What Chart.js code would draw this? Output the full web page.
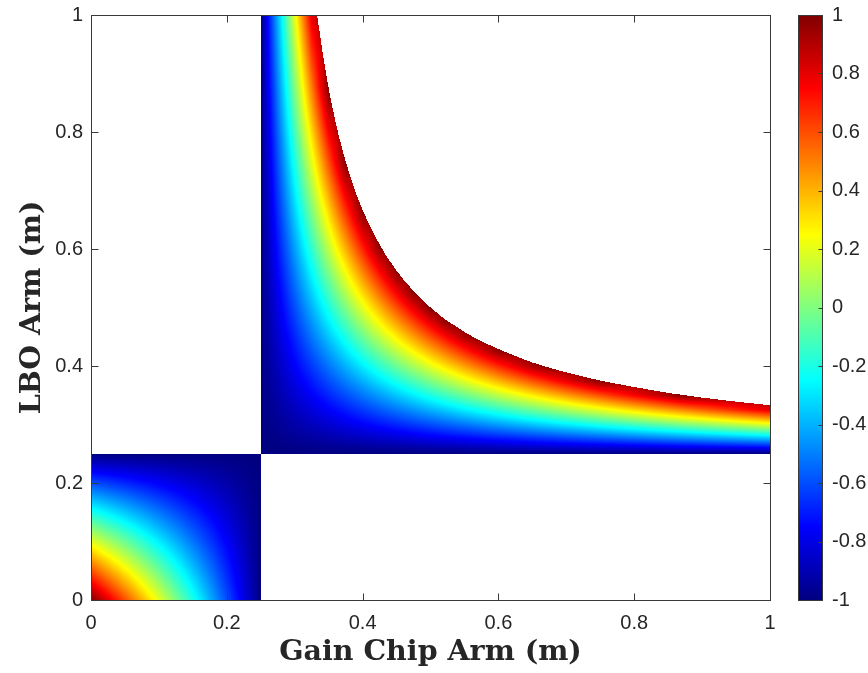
<!DOCTYPE html>
<html>
<head>
<meta charset="utf-8">
<script src="https://cdn.jsdelivr.net/npm/chart.js@4.4.1/dist/chart.umd.min.js"></script>
<style>
  body { margin: 0; background: #fff; }
  canvas { display: block; }
</style>
</head>
<body>
<canvas id="stabilityChart" width="868" height="673"></canvas>
<script>
const axisTicks = [0, 0.2, 0.4, 0.6, 0.8, 1];
const colorTicks = [-1, -0.8, -0.6, -0.4, -0.2, 0, 0.2, 0.4, 0.6, 0.8, 1];

// lower-left stable zone, nodes in both gain chip arm and LBO arm (m)
const lowerNodes = [0, 0.025, 0.05, 0.075, 0.1, 0.125, 0.15, 0.175, 0.2, 0.225, 0.25];
// rows go up in LBO arm, columns go right in gain chip arm
const lowerGrid = [
  [1, 0.8, 0.6, 0.4, 0.2, 0, -0.2, -0.4, -0.6, -0.8, -1],
  [0.8, 0.62, 0.44, 0.26, 0.08, -0.1, -0.28, -0.46, -0.64, -0.82, -1],
  [0.6, 0.44, 0.28, 0.12, -0.04, -0.2, -0.36, -0.52, -0.68, -0.84, -1],
  [0.4, 0.26, 0.12, -0.02, -0.16, -0.3, -0.44, -0.58, -0.72, -0.86, -1],
  [0.2, 0.08, -0.04, -0.16, -0.28, -0.4, -0.52, -0.64, -0.76, -0.88, -1],
  [0, -0.1, -0.2, -0.3, -0.4, -0.5, -0.6, -0.7, -0.8, -0.9, -1],
  [-0.2, -0.28, -0.36, -0.44, -0.52, -0.6, -0.68, -0.76, -0.84, -0.92, -1],
  [-0.4, -0.46, -0.52, -0.58, -0.64, -0.7, -0.76, -0.82, -0.88, -0.94, -1],
  [-0.6, -0.64, -0.68, -0.72, -0.76, -0.8, -0.84, -0.88, -0.92, -0.96, -1],
  [-0.8, -0.82, -0.84, -0.86, -0.88, -0.9, -0.92, -0.94, -0.96, -0.98, -1],
  [-1, -1, -1, -1, -1, -1, -1, -1, -1, -1, -1]
];

// upper-right stable zone
const upperNodes = [0.25, 0.275, 0.3, 0.325, 0.35, 0.375, 0.4, 0.425, 0.45, 0.475, 0.5,
  0.525, 0.55, 0.575, 0.6, 0.625, 0.65, 0.675, 0.7, 0.725, 0.75,
  0.775, 0.8, 0.825, 0.85, 0.875, 0.9, 0.925, 0.95, 0.975, 1];
// each row stops at the last node inside the stable zone
const upperGrid = [
  [-1, -1, -1, -1, -1, -1, -1, -1, -1, -1, -1, -1, -1, -1, -1, -1, -1, -1, -1, -1, -1, -1, -1, -1, -1, -1, -1, -1, -1, -1, -1],
  [-1, -0.98, -0.96, -0.94, -0.92, -0.9, -0.88, -0.86, -0.84, -0.82, -0.8, -0.78, -0.76, -0.74, -0.72, -0.7, -0.68, -0.66, -0.64, -0.62, -0.6, -0.58, -0.56, -0.54, -0.52, -0.5, -0.48, -0.46, -0.44, -0.42, -0.4],
  [-1, -0.96, -0.92, -0.88, -0.84, -0.8, -0.76, -0.72, -0.68, -0.64, -0.6, -0.56, -0.52, -0.48, -0.44, -0.4, -0.36, -0.32, -0.28, -0.24, -0.2, -0.16, -0.12, -0.08, -0.04, 0, 0.04, 0.08, 0.12, 0.16, 0.2],
  [-1, -0.94, -0.88, -0.82, -0.76, -0.7, -0.64, -0.58, -0.52, -0.46, -0.4, -0.34, -0.28, -0.22, -0.16, -0.1, -0.04, 0.02, 0.08, 0.14, 0.2, 0.26, 0.32, 0.38, 0.44, 0.5, 0.56, 0.62, 0.68, 0.74, 0.8],
  [-1, -0.92, -0.84, -0.76, -0.68, -0.6, -0.52, -0.44, -0.36, -0.28, -0.2, -0.12, -0.04, 0.04, 0.12, 0.2, 0.28, 0.36, 0.44, 0.52, 0.6, 0.68, 0.76, 0.84, 0.92, 1],
  [-1, -0.9, -0.8, -0.7, -0.6, -0.5, -0.4, -0.3, -0.2, -0.1, 0, 0.1, 0.2, 0.3, 0.4, 0.5, 0.6, 0.7, 0.8, 0.9, 1],
  [-1, -0.88, -0.76, -0.64, -0.52, -0.4, -0.28, -0.16, -0.04, 0.08, 0.2, 0.32, 0.44, 0.56, 0.68, 0.8, 0.92],
  [-1, -0.86, -0.72, -0.58, -0.44, -0.3, -0.16, -0.02, 0.12, 0.26, 0.4, 0.54, 0.68, 0.82, 0.96],
  [-1, -0.84, -0.68, -0.52, -0.36, -0.2, -0.04, 0.12, 0.28, 0.44, 0.6, 0.76, 0.92],
  [-1, -0.82, -0.64, -0.46, -0.28, -0.1, 0.08, 0.26, 0.44, 0.62, 0.8, 0.98],
  [-1, -0.8, -0.6, -0.4, -0.2, 0, 0.2, 0.4, 0.6, 0.8, 1],
  [-1, -0.78, -0.56, -0.34, -0.12, 0.1, 0.32, 0.54, 0.76, 0.98],
  [-1, -0.76, -0.52, -0.28, -0.04, 0.2, 0.44, 0.68, 0.92],
  [-1, -0.74, -0.48, -0.22, 0.04, 0.3, 0.56, 0.82],
  [-1, -0.72, -0.44, -0.16, 0.12, 0.4, 0.68, 0.96],
  [-1, -0.7, -0.4, -0.1, 0.2, 0.5, 0.8],
  [-1, -0.68, -0.36, -0.04, 0.28, 0.6, 0.92],
  [-1, -0.66, -0.32, 0.02, 0.36, 0.7],
  [-1, -0.64, -0.28, 0.08, 0.44, 0.8],
  [-1, -0.62, -0.24, 0.14, 0.52, 0.9],
  [-1, -0.6, -0.2, 0.2, 0.6, 1],
  [-1, -0.58, -0.16, 0.26, 0.68],
  [-1, -0.56, -0.12, 0.32, 0.76],
  [-1, -0.54, -0.08, 0.38, 0.84],
  [-1, -0.52, -0.04, 0.44, 0.92],
  [-1, -0.5, 0, 0.5, 1],
  [-1, -0.48, 0.04, 0.56],
  [-1, -0.46, 0.08, 0.62],
  [-1, -0.44, 0.12, 0.68],
  [-1, -0.42, 0.16, 0.74],
  [-1, -0.4, 0.2, 0.8]
];

// outer edge of the upper stable zone (gain chip arm, LBO arm)
const edgeX = [0.333, 0.337, 0.34, 0.345, 0.35, 0.355, 0.36, 0.365, 0.37, 0.375,
  0.38, 0.385, 0.39, 0.395, 0.4, 0.41, 0.42, 0.435, 0.45, 0.46, 0.475,
  0.5, 0.52, 0.55, 0.575, 0.6, 0.625, 0.65, 0.675, 0.7, 0.725, 0.75,
  0.8, 0.85, 0.9, 0.95, 1];
const edgeY = [1, 0.968, 0.944, 0.908, 0.875, 0.845, 0.818, 0.793, 0.771, 0.75,
  0.731, 0.713, 0.696, 0.681, 0.667, 0.641, 0.618, 0.588, 0.563, 0.548, 0.528,
  0.5, 0.481, 0.458, 0.442, 0.429, 0.417, 0.406, 0.397, 0.389, 0.382, 0.375,
  0.364, 0.354, 0.346, 0.339, 0.333];

const axisColor = "#3a3a3a";
const textColor = "#262626";

function jet(v) {
  const t = Math.min(1, Math.max(0, (v + 1) / 2));
  const c = (a) => Math.min(1, Math.max(0, a));
  return [
    c(Math.min(4 * t - 1.5, 4.5 - 4 * t)),
    c(Math.min(4 * t - 0.5, 3.5 - 4 * t)),
    c(Math.min(4 * t + 0.5, 2.5 - 4 * t)),
  ];
}

function nodeValue(grid, i, j) {
  const v = grid[j][i];
  return v === undefined ? 1 : v; // past the edge: saturated red
}

function sampleGrid(grid, nodes, xv, yv) {
  const step = nodes[1] - nodes[0];
  const n = nodes.length;
  const fi = (xv - nodes[0]) / step;
  const fj = (yv - nodes[0]) / step;
  const i = Math.min(n - 2, Math.max(0, Math.floor(fi)));
  const j = Math.min(n - 2, Math.max(0, Math.floor(fj)));
  const tx = fi - i, ty = fj - j;
  const a = nodeValue(grid, i, j), b = nodeValue(grid, i + 1, j);
  const c = nodeValue(grid, i, j + 1), d = nodeValue(grid, i + 1, j + 1);
  return (a * (1 - tx) + b * tx) * (1 - ty) + (c * (1 - tx) + d * tx) * ty;
}

function edgeAt(xv) {
  if (xv <= edgeX[0]) return Infinity;
  for (let k = 1; k < edgeX.length; k++) {
    if (xv <= edgeX[k]) {
      const t = (xv - edgeX[k - 1]) / (edgeX[k] - edgeX[k - 1]);
      return edgeY[k - 1] + t * (edgeY[k] - edgeY[k - 1]);
    }
  }
  return edgeY[edgeY.length - 1];
}

function fieldAt(xv, yv) {
  const split = lowerNodes[lowerNodes.length - 1];
  if (xv <= split && yv <= split) return sampleGrid(lowerGrid, lowerNodes, xv, yv);
  if (xv >= split && yv >= split && yv <= edgeAt(xv)) return sampleGrid(upperGrid, upperNodes, xv, yv);
  return null;
}

const heatmapPlugin = {
  id: "heatmap",
  beforeDatasetsDraw(chart) {
    const { ctx, chartArea: a, scales } = chart;
    const left = Math.round(a.left), top = Math.round(a.top);
    const w = Math.round(a.right) - left, h = Math.round(a.bottom) - top;
    const img = ctx.createImageData(w, h);
    for (let py = 0; py < h; py++) {
      const yv = scales.y.getValueForPixel(top + py + 0.5);
      for (let px = 0; px < w; px++) {
        const xv = scales.x.getValueForPixel(left + px + 0.5);
        const v = fieldAt(xv, yv);
        if (v === null) continue;
        const rgb = jet(v);
        const k = (py * w + px) * 4;
        img.data[k] = Math.round(rgb[0] * 255);
        img.data[k + 1] = Math.round(rgb[1] * 255);
        img.data[k + 2] = Math.round(rgb[2] * 255);
        img.data[k + 3] = 255;
      }
    }
    const off = document.createElement("canvas");
    off.width = w;
    off.height = h;
    off.getContext("2d").putImageData(img, 0, 0);
    ctx.drawImage(off, left, top);
  },
  afterDatasetsDraw(chart) {
    const { ctx, chartArea: a, scales } = chart;
    const L = Math.round(a.left) + 0.5, R = Math.round(a.right) + 0.5;
    const T = Math.round(a.top) + 0.5, B = Math.round(a.bottom) + 0.5;
    ctx.save();
    ctx.strokeStyle = axisColor;
    ctx.lineWidth = 1;
    ctx.strokeRect(L, T, R - L, B - T);
    ctx.beginPath();
    axisTicks.forEach((v) => {
      const px = Math.round(scales.x.getPixelForValue(v)) + 0.5;
      ctx.moveTo(px, B); ctx.lineTo(px, B - 7);
      ctx.moveTo(px, T); ctx.lineTo(px, T + 7);
      const py = Math.round(scales.y.getPixelForValue(v)) + 0.5;
      ctx.moveTo(L, py); ctx.lineTo(L + 7, py);
      ctx.moveTo(R, py); ctx.lineTo(R - 7, py);
    });
    ctx.stroke();

    // colour bar
    const cb = scales.cb;
    const bl = Math.round(cb.left) + 28, bw = 24;
    const bt = Math.round(cb.getPixelForValue(1)), bb = Math.round(cb.getPixelForValue(-1));
    const grad = ctx.createLinearGradient(0, bb, 0, bt);
    [0, 0.125, 0.375, 0.625, 0.875, 1].forEach((t) => {
      const rgb = jet(t * 2 - 1);
      grad.addColorStop(t, `rgb(${rgb.map((c) => Math.round(c * 255)).join(",")})`);
    });
    ctx.fillStyle = grad;
    ctx.fillRect(bl, bt, bw, bb - bt);
    ctx.strokeRect(bl + 0.5, bt + 0.5, bw, bb - bt);
    ctx.beginPath();
    colorTicks.forEach((v) => {
      const py = Math.round(cb.getPixelForValue(v)) + 0.5;
      ctx.moveTo(bl + bw + 0.5, py); ctx.lineTo(bl + bw - 3.5, py);
    });
    ctx.stroke();
    ctx.restore();
  },
};

const tickFont = { family: "'Liberation Sans', Arial, Helvetica, sans-serif", size: 20 };
const titleFont = { family: "'DejaVu Serif', serif", size: 28.5, weight: "bold" };
const fmt = (v) => String(Math.round(v * 10) / 10);

new Chart(document.getElementById("stabilityChart"), {
  type: "scatter",
  data: { datasets: [] },
  options: {
    responsive: false,
    animation: false,
    events: [],
    layout: { padding: { top: 15, left: 0, right: 0, bottom: 0 } },
    plugins: { legend: { display: false }, tooltip: { enabled: false } },
    scales: {
      x: {
        type: "linear",
        min: 0,
        max: 1,
        afterBuildTicks: (s) => { s.ticks = axisTicks.map((v) => ({ value: v })); },
        ticks: { font: tickFont, color: textColor, padding: 0, maxRotation: 0, callback: fmt },
        grid: { display: false, drawTicks: true, tickLength: 11 },
        border: { display: false },
        title: { display: true, text: "Gain Chip Arm (m)", font: titleFont, color: textColor, padding: { top: 0, bottom: 3 } },
        afterFit: (s) => { s.height = 73; },
      },
      y: {
        type: "linear",
        min: 0,
        max: 1,
        afterBuildTicks: (s) => { s.ticks = axisTicks.map((v) => ({ value: v })); },
        ticks: { font: tickFont, color: textColor, padding: 0, callback: fmt },
        grid: { display: false, drawTicks: true, tickLength: 8 },
        border: { display: false },
        title: { display: true, text: "LBO Arm (m)", font: titleFont, color: textColor, padding: { top: 15, bottom: 0 } },
        afterFit: (s) => { s.width = 91; },
      },
      cb: {
        type: "linear",
        axis: "y",
        position: "right",
        min: -1,
        max: 1,
        afterBuildTicks: (s) => { s.ticks = colorTicks.map((v) => ({ value: v })); },
        ticks: { font: tickFont, color: textColor, padding: 0, callback: fmt },
        grid: { display: false, drawTicks: true, tickLength: 62 },
        border: { display: false },
        afterFit: (s) => { s.width = 98; },
      },
    },
  },
  plugins: [heatmapPlugin],
});
</script>
</body>
</html>
